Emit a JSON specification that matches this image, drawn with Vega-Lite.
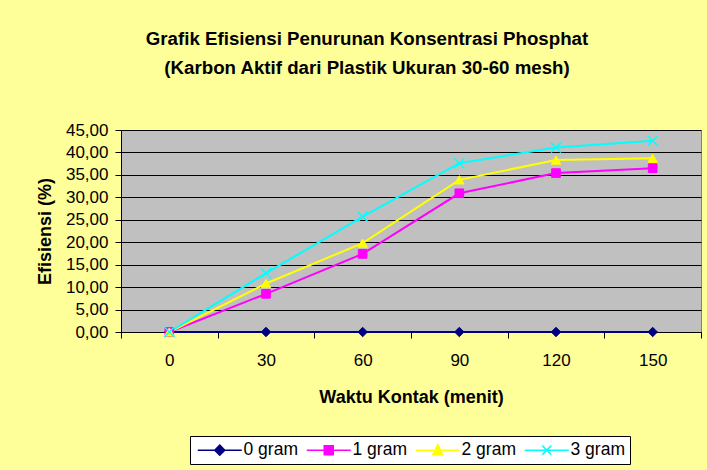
{
  "$schema": "https://vega.github.io/schema/vega-lite/v6.json",
  "width": 580,
  "height": 202,
  "autosize": {"type": "none"},
  "padding": {"left": 121, "top": 130, "right": 6, "bottom": 138},
  "background": "#FFFF99",
  "config": {
    "font": "Liberation Sans",
    "view": {"fill": "#C0C0C0", "stroke": "#808080", "strokeWidth": 1}
  },
  "title": {
    "text": ["Grafik Efisiensi Penurunan Konsentrasi Phosphat", "(Karbon Aktif dari Plastik Ukuran 30-60 mesh)"],
    "font": "Liberation Sans",
    "fontSize": 18.7,
    "fontWeight": "bold",
    "color": "black",
    "anchor": "middle",
    "dx": -44,
    "lineHeight": 29,
    "offset": 43
  },
  "data": {
    "values": [
      {"waktu": 0, "series": "0 gram", "efisiensi": 0},
      {"waktu": 30, "series": "0 gram", "efisiensi": 0},
      {"waktu": 60, "series": "0 gram", "efisiensi": 0},
      {"waktu": 90, "series": "0 gram", "efisiensi": 0},
      {"waktu": 120, "series": "0 gram", "efisiensi": 0},
      {"waktu": 150, "series": "0 gram", "efisiensi": 0},
      {"waktu": 0, "series": "1 gram", "efisiensi": 0},
      {"waktu": 30, "series": "1 gram", "efisiensi": 8.5},
      {"waktu": 60, "series": "1 gram", "efisiensi": 17.4},
      {"waktu": 90, "series": "1 gram", "efisiensi": 30.9},
      {"waktu": 120, "series": "1 gram", "efisiensi": 35.4},
      {"waktu": 150, "series": "1 gram", "efisiensi": 36.5},
      {"waktu": 0, "series": "2 gram", "efisiensi": 0},
      {"waktu": 30, "series": "2 gram", "efisiensi": 10.8},
      {"waktu": 60, "series": "2 gram", "efisiensi": 19.8},
      {"waktu": 90, "series": "2 gram", "efisiensi": 33.9},
      {"waktu": 120, "series": "2 gram", "efisiensi": 38.3},
      {"waktu": 150, "series": "2 gram", "efisiensi": 38.7},
      {"waktu": 0, "series": "3 gram", "efisiensi": 0},
      {"waktu": 30, "series": "3 gram", "efisiensi": 13.1},
      {"waktu": 60, "series": "3 gram", "efisiensi": 25.7},
      {"waktu": 90, "series": "3 gram", "efisiensi": 37.6},
      {"waktu": 120, "series": "3 gram", "efisiensi": 41.1},
      {"waktu": 150, "series": "3 gram", "efisiensi": 42.6}
    ]
  },
  "encoding": {
    "x": {
      "field": "waktu",
      "type": "ordinal",
      "bandPosition": 0.5,
      "scale": {"type": "band", "paddingInner": 0, "paddingOuter": 0},
      "axis": {
        "title": "Waktu Kontak (menit)",
        "titleFontSize": 18,
        "titleFontWeight": "bold",
        "titleColor": "black",
        "titleY": 65,
        "titleBaseline": "middle",
        "labelAngle": 0,
        "labelFontSize": 17,
        "labelColor": "black",
        "labelPadding": 14,
        "tickBand": "extent",
        "tickSize": 6,
        "tickColor": "black",
        "domainColor": "black",
        "grid": false
      }
    },
    "y": {
      "field": "efisiensi",
      "type": "quantitative",
      "scale": {"domain": [0, 45], "nice": false},
      "axis": {
        "title": "Efisiensi (%)",
        "titleFontSize": 18,
        "titleFontWeight": "bold",
        "titleColor": "black",
        "titleX": -76,
        "titleY": 101,
        "titleAngle": -90,
        "titleAlign": "center",
        "titleBaseline": "middle",
        "values": [0, 5, 10, 15, 20, 25, 30, 35, 40, 45],
        "labelExpr": "replace(format(datum.value, '.2f'), '.', ',')",
        "labelFontSize": 17,
        "labelColor": "black",
        "labelPadding": 7,
        "tickSize": 6,
        "tickColor": "black",
        "domainColor": "black",
        "grid": true,
        "gridColor": "black",
        "gridOpacity": 1,
        "gridWidth": 1
      }
    }
  },
  "layer": [
    {
      "mark": {"type": "line", "strokeWidth": 2},
      "encoding": {
        "color": {
          "field": "series",
          "type": "nominal",
          "scale": {"domain": ["0 gram", "1 gram", "2 gram", "3 gram"], "range": ["#000080", "#FF00FF", "#FFFF00", "#00FFFF"]},
          "legend": {
            "orient": "none",
            "legendX": 69,
            "legendY": 306,
            "direction": "horizontal",
            "title": null,
            "fillColor": "white",
            "strokeColor": "black",
            "padding": 5,
            "labelFontSize": 17.5,
            "labelColor": "black",
            "symbolSize": 100,
            "symbolOffset": 16,
            "labelOffset": 15,
            "columnPadding": 5,
            "symbolStrokeWidth": 1.5,
            "encode": {
              "symbols": {
                "update": {
                  "shape": {"signal": "datum.value === '0 gram' ? 'M-4.4,0L4.4,0M0,-1L1,0L0,1L-1,0ZM0,-0.7L0.7,0L0,0.7L-0.7,0ZM0,-0.4L0.4,0L0,0.4L-0.4,0ZM0,-0.15L0.15,0L0,0.15L-0.15,0Z' : datum.value === '1 gram' ? 'M-4.4,0L4.4,0M-0.9,-0.9L0.9,-0.9L0.9,0.9L-0.9,0.9ZM-0.6,-0.6L0.6,-0.6L0.6,0.6L-0.6,0.6ZM-0.3,-0.3L0.3,-0.3L0.3,0.3L-0.3,0.3ZM-0.05,-0.05L0.05,-0.05L0.05,0.05L-0.05,0.05Z' : datum.value === '2 gram' ? 'M-4.4,0L4.4,0M0,-1.1L1,0.9L-1,0.9ZM0,-0.7L0.7,0.7L-0.7,0.7ZM0,-0.3L0.4,0.5L-0.4,0.5ZM0,0.03L0.15,0.33L-0.15,0.33Z' : 'M-4.4,0L4.4,0M-0.9,-0.9L0.9,0.9M-0.9,0.9L0.9,-0.9'"},
                  "strokeWidth": {"value": 1.5}
                }
              }
            }
          }
        }
      }
    },
    {
      "transform": [{"filter": {"field": "series", "equal": "0 gram"}}],
      "mark": {"type": "point", "filled": true, "shape": "diamond", "size": 90, "color": "#000080", "stroke": "#000080", "strokeWidth": 1, "opacity": 1}
    },
    {
      "transform": [{"filter": {"field": "series", "equal": "1 gram"}}],
      "mark": {"type": "point", "filled": true, "shape": "square", "size": 75, "color": "#FF00FF", "stroke": "#FF00FF", "strokeWidth": 1, "opacity": 1}
    },
    {
      "transform": [{"filter": {"field": "series", "equal": "2 gram"}}],
      "mark": {"type": "point", "filled": true, "shape": "triangle-up", "size": 90, "color": "#FFFF00", "stroke": "#FFFF00", "strokeWidth": 1, "opacity": 1}
    },
    {
      "transform": [{"filter": {"field": "series", "equal": "3 gram"}}],
      "mark": {"type": "point", "filled": false, "shape": "M-1,-1L1,1M-1,1L1,-1", "size": 100, "color": "#00FFFF", "strokeWidth": 1.5, "opacity": 1}
    }
  ]
}
